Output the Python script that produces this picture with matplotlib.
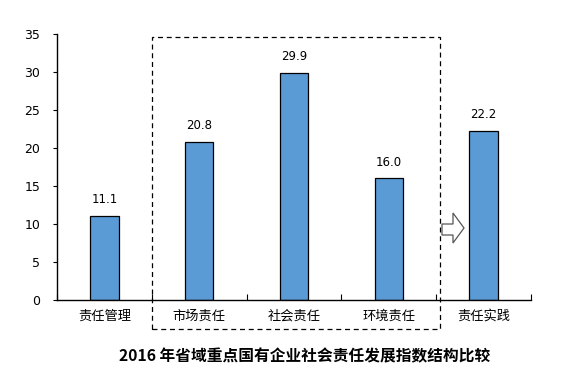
import matplotlib
matplotlib.use("Agg")
from matplotlib import pyplot as plt
from matplotlib.patches import Rectangle, Polygon

plt.rcParams['font.family'] = ['Noto Sans CJK SC', 'DejaVu Sans']

categories = ['责任管理', '市场责任', '社会责任', '环境责任', '责任实践']
values = [11.1, 20.8, 29.9, 16.0, 22.2]
title = '2016 年省域重点国有企业社会责任发展指数结构比较'

W, H = 562, 376
fig = plt.figure(figsize=(W / 100, H / 100), dpi=100)
ax = fig.add_axes([57 / W, 1 - 300 / H, 474 / W, 266 / H])

x = list(range(len(categories)))
bars = ax.bar(x, values, width=0.3, color='#5B9BD5', edgecolor='black', linewidth=0.9)
for b, v in zip(bars, values):
    ax.text(b.get_x() + b.get_width() / 2, v + 1.3, '{:.1f}'.format(v),
            ha='center', va='bottom', fontsize=8.5, family='DejaVu Sans')

ax.set_xlim(-0.5, len(categories) - 0.5)
ax.set_ylim(0, 35)
ax.set_yticks(range(0, 36, 5))
ax.set_xticks(x)
ax.set_xticklabels(categories, fontsize=9.5)
ax.set_xticks([i - 0.5 for i in range(len(categories) + 1)], minor=True)
ax.tick_params(axis='x', which='major', length=0, pad=7)
ax.tick_params(axis='x', which='minor', direction='in', length=4, width=0.8)
ax.tick_params(axis='y', length=3, width=0.8, labelsize=9, pad=9)
for lbl in ax.get_yticklabels():
    lbl.set_family('DejaVu Sans')
ax.spines['top'].set_visible(False)
ax.spines['right'].set_visible(False)
ax.spines['left'].set_linewidth(1)
ax.spines['bottom'].set_linewidth(1)

# dashed frame around the three middle categories
fig.patches.append(Rectangle((152 / W, 1 - 329 / H), 288 / W, 292 / H,
                             transform=fig.transFigure, fill=False,
                             edgecolor='black', linestyle=(0, (4, 3)), linewidth=0.9))

# hollow arrow pointing to the last bar
pts = [(442, 224), (453, 224), (453, 213), (464, 228), (453, 243), (453, 235), (442, 235)]
fig.patches.append(Polygon([(px / W, 1 - py / H) for px, py in pts], closed=True,
                           transform=fig.transFigure, facecolor='white',
                           edgecolor='#555555', linewidth=0.9))

fig.text(305 / W, 1 - 356 / H, title, ha='center', va='center',
         fontsize=11.3, fontweight='bold')

fig.savefig('out.png', dpi=100)
